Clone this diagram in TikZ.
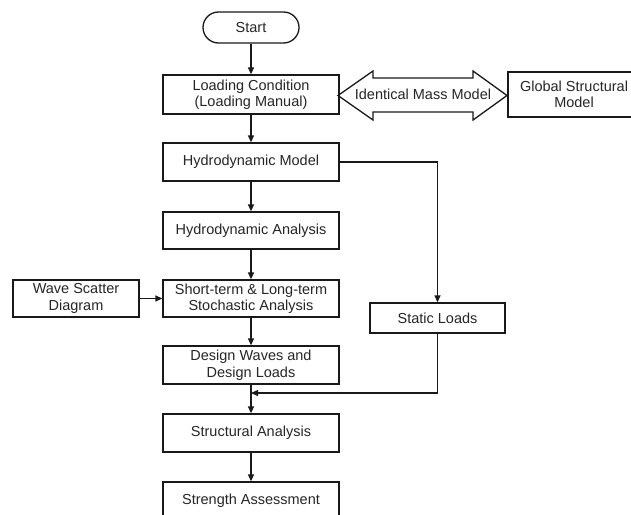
\documentclass[tikz,border=0pt]{standalone}
\usepackage{fontspec}
\setmainfont{Liberation Sans}
\usetikzlibrary{arrows.meta}
\begin{document}
\begin{tikzpicture}[x=1pt,y=-1pt,
  box/.style={draw=black!90, line width=1.3pt, rectangle, align=center, inner sep=0pt,
    font=\fontsize{14.5}{16.5}\selectfont, text=black!85},
  mainbox/.style={box, minimum width=176pt},
  conn/.style={draw=black!90, line width=1.3pt},
  arr/.style={conn, -{Triangle[length=7pt,width=6pt]}}]
\useasboundingbox (0,0) rectangle (631,514);
\clip (0,0) rectangle (631,514);
\fill[white] (0,0) rectangle (631,514);
\node[box, rounded corners=15.5pt, minimum width=96pt, minimum height=31pt] (start) at (251,27.5) {Start};
\node[mainbox, minimum height=39pt] (load) at (251,94.5) {Loading Condition\\(Loading Manual)};
\node[mainbox, minimum height=38pt] (hm) at (251,162) {Hydrodynamic Model};
\node[mainbox, minimum height=37pt] (ha) at (251,230.5) {Hydrodynamic Analysis};
\node[mainbox, minimum height=37pt] (st) at (251,298.5) {Short-term \& Long-term\\Stochastic Analysis};
\node[mainbox, minimum height=38pt] (dw) at (251,365) {Design Waves and\\Design Loads};
\node[mainbox, minimum height=38pt] (sa) at (251,433) {Structural Analysis};
\node[mainbox, minimum height=38pt] (sas) at (251,501) {Strength Assessment};
\node[box, minimum width=126pt, minimum height=37pt] (wave) at (76,298.5) {Wave Scatter\\Diagram};
\node[box, minimum width=135pt, minimum height=30pt] (static) at (437.5,318) {Static Loads};
\node[box, minimum width=132pt, minimum height=45pt] (global) at (574,94.5) {Global Structural\\Model};
% double arrow
\draw[conn, line join=miter] (338,95.5) -- (373,71) -- (373,78) -- (473,78) -- (473,71) -- (507,95.5)
  -- (473,120) -- (473,112) -- (373,112) -- (373,120) -- cycle;
\node[font=\fontsize{14.5}{16.5}\selectfont, text=black!85] (ident) at (423,94) {Identical Mass Model};
% connectors
\draw[arr] (start) -- (load);
\draw[arr] (load) -- (hm);
\draw[arr] (hm) -- (ha);
\draw[arr] (ha) -- (st);
\draw[arr] (st) -- (dw);
\draw[arr] (dw) -- (sa);
\draw[arr] (sa) -- (sas);
\draw[arr] (wave) -- (st);
\draw[arr] (hm.east) -| (static.north);
\coordinate (m) at (251,393);
\draw[arr] (static.south) |- (m);
\end{tikzpicture}
\end{document}
